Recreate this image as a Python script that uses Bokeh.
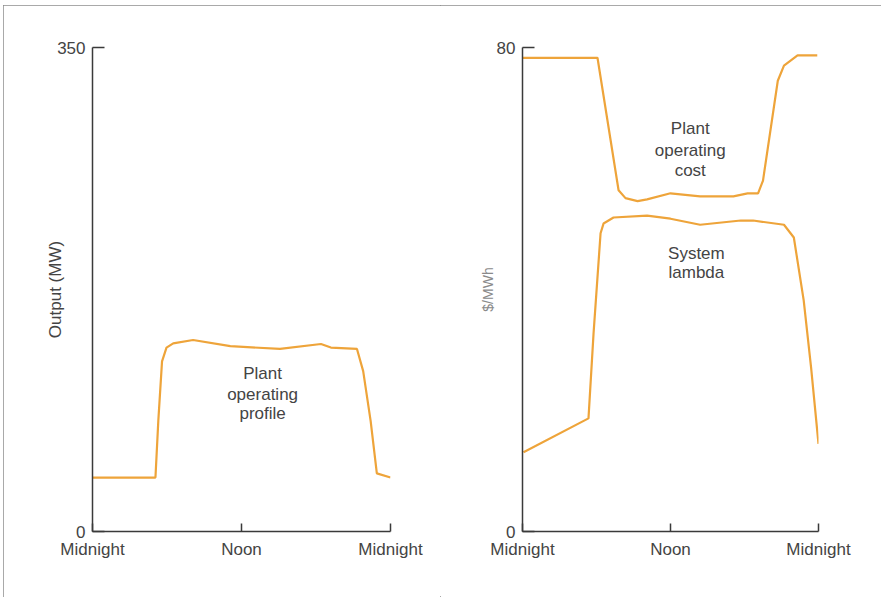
from bokeh.plotting import figure
from bokeh.layouts import row
from bokeh.models import Range1d, FixedTicker, Label
from bokeh.embed import file_html
from bokeh.resources import INLINE

# ---- data (hours from midnight) ----
profile_hours = [0, 5.07, 5.3, 5.6, 5.96, 6.5, 8.1, 11.1, 15.1, 18.4, 19.2, 21.3, 21.8, 22.4, 22.9, 24]
profile_mw = [39, 39, 80, 123, 133, 136, 138.5, 134, 132, 135.6, 133, 132, 116, 80, 42, 39]

cost_hours = [0, 6.08, 7.79, 8.35, 9.33, 10.1, 12.0, 14.4, 17.1, 18.25, 19.1, 19.5, 20.7, 21.2, 22.3, 23.9]
cost_vals = [78.3, 78.3, 56.4, 55.1, 54.6, 54.9, 55.9, 55.4, 55.4, 55.9, 55.9, 58.0, 74.5, 77.0, 78.7, 78.7]

lambda_hours = [0.08, 5.35, 5.76, 6.33, 6.57, 7.38, 10.1, 12.0, 14.4, 17.7, 18.7, 21.2, 22.0, 22.8, 23.4, 24.0]
lambda_vals = [13.1, 18.7, 32.7, 49.3, 50.9, 51.9, 52.2, 51.7, 50.7, 51.4, 51.4, 50.7, 48.6, 38.2, 27.1, 14.5]

x_ticks = [0, 12, 24]
x_tick_labels = {0: "Midnight", 12: "Noon", 24: "Midnight"}

FONT = "Liberation Sans"
TXT = "#444444"
AX = "#3a3a3a"
LINE = "#eea43a"


def style(p, ymax, ylabel, ylabel_size, ylabel_color, standoff):
    p.xgrid.visible = False
    p.ygrid.visible = False
    p.outline_line_color = None
    p.background_fill_color = "white"
    p.border_fill_color = "white"
    for ax in (p.xaxis[0], p.yaxis[0]):
        ax.axis_line_color = AX
        ax.axis_line_width = 1.5
        ax.major_tick_line_color = AX
        ax.major_tick_line_width = 1.5
        ax.minor_tick_line_color = None
        ax.major_tick_out = 0
        ax.major_label_text_font = FONT
        ax.major_label_text_font_size = "17px"
        ax.major_label_text_color = TXT
    p.xaxis.ticker = FixedTicker(ticks=x_ticks)
    p.xaxis.major_label_overrides = x_tick_labels
    p.xaxis.major_tick_in = 8
    p.xaxis.major_label_standoff = 8
    p.yaxis.ticker = FixedTicker(ticks=[0, ymax])
    p.yaxis.major_tick_in = 12
    p.yaxis.major_label_standoff = 7
    p.yaxis.axis_label = ylabel
    p.yaxis.axis_label_text_font = FONT
    p.yaxis.axis_label_text_font_style = "normal"
    p.yaxis.axis_label_text_font_size = ylabel_size
    p.yaxis.axis_label_text_color = ylabel_color
    p.yaxis.axis_label_standoff = standoff


def note(p, x, y, text):
    p.add_layout(Label(x=x, y=y, text=text, text_align="center", text_baseline="middle",
                       text_font=FONT, text_font_size="17px", text_color=TXT))


# ---- left panel ----
p1 = figure(width=437, height=592, output_backend="svg", toolbar_location=None,
            x_range=Range1d(0, 24), y_range=Range1d(0, 350),
            min_border_left=89, min_border_right=50, min_border_top=41, min_border_bottom=66)
style(p1, 350, "Output (MW)", "17px", TXT, -11)
p1.line(profile_hours, profile_mw, line_color=LINE, line_width=2.2)
note(p1, 13.7, 114, "Plant")
note(p1, 13.7, 99, "operating")
note(p1, 13.7, 85, "profile")

# ---- right panel ----
p2 = figure(width=441, height=592, output_backend="svg", toolbar_location=None,
            x_range=Range1d(0, 24), y_range=Range1d(0, 80),
            min_border_left=82, min_border_right=63, min_border_top=42, min_border_bottom=66)
style(p2, 80, "$/MWh", "14px", "#8a8a8a", -2)
p2.line(cost_hours, cost_vals, line_color=LINE, line_width=2.2)
p2.line(lambda_hours, lambda_vals, line_color=LINE, line_width=2.2)
note(p2, 13.6, 66.6, "Plant")
note(p2, 13.6, 63.0, "operating")
note(p2, 13.6, 59.7, "cost")
note(p2, 14.1, 46.0, "System")
note(p2, 14.1, 42.8, "lambda")

layout = row(p1, p2, styles={"outline": "1.5px solid #8c8c8c", "outline-offset": "-1px",
                             "margin-left": "3px", "margin-top": "5px"})

open("out.html", "w").write(file_html(layout, INLINE))
